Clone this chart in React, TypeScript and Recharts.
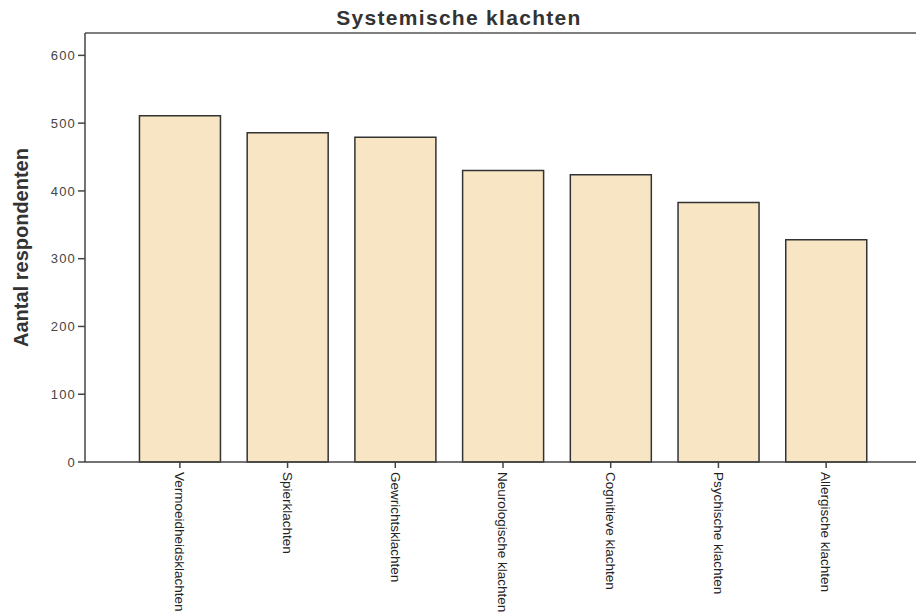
import { BarChart, Bar, XAxis, YAxis, Label, ReferenceLine } from "recharts";

const categories = [
  "Vermoeidheidsklachten",
  "Spierklachten",
  "Gewrichtsklachten",
  "Neurologische klachten",
  "Cognitieve klachten",
  "Psychische klachten",
  "Allergische klachten",
];
const respondents = [511, 486, 479, 430, 424, 383, 328];
const yTicks = [0, 100, 200, 300, 400, 500, 600];
const yMax = 633;

const data = categories.map((name, i) => ({ name, count: respondents[i] }));

const NARROW = "'Liberation Sans Narrow', 'Arial Narrow', 'Liberation Sans', Arial, sans-serif";
const SANS = "'Liberation Sans', Arial, sans-serif";

function CategoryTick(props: any) {
  const { x, y, payload } = props;
  return (
    <g transform={`translate(${x},${y})`}>
      <text
        transform="rotate(90)"
        x={2}
        y={0}
        dy="0.35em"
        textAnchor="start"
        fill="#222"
        fontSize={13.5}
        fontFamily={NARROW}
      >
        {payload.value}
      </text>
    </g>
  );
}

export default function App() {
  return (
    <div style={{ position: "absolute", left: 0, top: 0, width: 916, height: 615, background: "#fff" }}>
      <div
        style={{
          position: "absolute",
          left: 0,
          top: 6,
          width: 918,
          textAlign: "center",
          fontFamily: SANS,
          fontWeight: "bold",
          fontSize: 21,
          letterSpacing: 1.3,
          color: "#333",
        }}
      >
        Systemische klachten
      </div>
      <BarChart
        width={916}
        height={615}
        data={data}
        margin={{ top: 33, right: 0, left: 0, bottom: 0 }}
        barCategoryGap="12.5%"
      >
        <XAxis
          dataKey="name"
          height={153}
          interval={0}
          padding={{ left: 41, right: 36 }}
          tick={<CategoryTick />}
          tickSize={6}
          axisLine={{ stroke: "#444", strokeWidth: 1.5 }}
          tickLine={{ stroke: "#444", strokeWidth: 1.5 }}
        />
        <YAxis
          width={85}
          domain={[0, yMax]}
          ticks={yTicks}
          interval={0}
          tickSize={7}
          tick={{ fill: "#444", fontSize: 13, fontFamily: SANS, letterSpacing: 1.2 }}
          axisLine={{ stroke: "#444", strokeWidth: 1.5 }}
          tickLine={{ stroke: "#444", strokeWidth: 1.5 }}
        >
          <Label
            value="Aantal respondenten"
            angle={-90}
            position="insideLeft"
            offset={21}
            style={{
              textAnchor: "middle",
              fill: "#333",
              fontSize: 20,
              fontWeight: "bold",
              fontFamily: NARROW,
            }}
          />
        </YAxis>
        <ReferenceLine y={yMax} stroke="#555" strokeWidth={1.5} />
        <Bar
          dataKey="count"
          fill="#f8e5c3"
          stroke="#333"
          strokeWidth={1.5}
          isAnimationActive={false}
        />
      </BarChart>
    </div>
  );
}
